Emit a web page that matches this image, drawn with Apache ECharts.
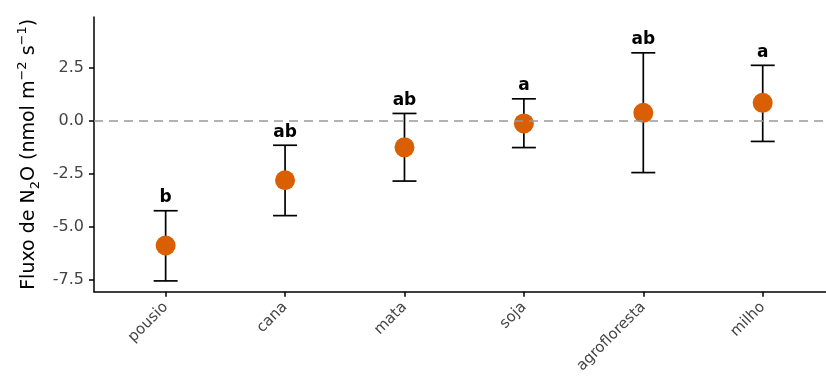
<!DOCTYPE html>
<html><head><meta charset="utf-8">
<script src="https://cdn.jsdelivr.net/npm/echarts@6/dist/echarts.min.js"></script>
<style>html,body{margin:0;padding:0;background:#fff}#c{width:826px;height:376px}</style>
</head><body><div id="c"></div>
<script>
const categories = ['pousio','cana','mata','soja','agrofloresta','milho'];
const means = [-5.90, -2.82, -1.27, -0.14, 0.36, 0.83];
const upper = [-4.26, -1.17, 0.33, 1.02, 3.19, 2.60];
const lower = [-7.57, -4.49, -2.86, -1.28, -2.46, -0.99];
const letters = ['b','ab','ab','a','ab','a'];
const yTicks = [-7.5, -5.0, -2.5, 0.0, 2.5];

const xIdx = categories.map((c,i)=>i+1);
const FONT = '"DejaVu Sans", sans-serif';

const chart = echarts.init(document.getElementById('c'), null, {renderer:'canvas'});
chart.setOption({
  animation:false,
  backgroundColor:'#fff',
  grid:{left:94, right:0, top:17, bottom:83, containLabel:false},
  xAxis:{
    type:'value', min:0.4, max:6.53,
    splitLine:{show:false},
    axisLine:{show:true, onZero:false, lineStyle:{color:'#000', width:1.5}},
    axisTick:{show:true, customValues:xIdx, length:5, lineStyle:{color:'#000', width:1.5}},
    axisLabel:{customValues:xIdx, rotate:45, color:'#444', fontSize:15, fontFamily:FONT, margin:13,
      formatter:v=>categories[Math.round(v)-1]||''}
  },
  yAxis:{
    type:'value', min:-8.08, max:4.88,
    splitLine:{show:false},
    axisLine:{show:true, onZero:false, lineStyle:{color:'#000', width:1.5}},
    axisTick:{show:true, customValues:yTicks, length:5, lineStyle:{color:'#000', width:1.5}},
    axisLabel:{customValues:yTicks, color:'#444', fontSize:16, fontFamily:FONT, margin:10,
      formatter:v=>v.toFixed(1)},
    name:'{n|Fluxo de N}{sub|2}{n|O (nmol m}{sup|−2}{n| s}{sup|−1}{n|)}',
    nameLocation:'middle', nameGap:48, nameRotate:90,
    nameTextStyle:{rich:{
      n:{fontSize:19, fontFamily:FONT, color:'#000', lineHeight:26, verticalAlign:'middle'},
      sub:{fontSize:13, fontFamily:FONT, color:'#000', padding:[12,0,0,0]},
      sup:{fontSize:13, fontFamily:FONT, color:'#000', padding:[0,0,13,0]}
    }}
  },
  series:[
    {
      type:'line', data:[],
      markLine:{silent:true, symbol:'none', label:{show:false},
        lineStyle:{color:'#999', type:[9,6], width:1.5},
        data:[{yAxis:0}]}
    },
    {
      type:'custom',
      data:xIdx.map((x,i)=>[x, lower[i], upper[i], letters[i]]),
      encode:{x:0, y:[1,2]},
      renderItem:function(params, api){
        const x = api.value(0);
        const lo = api.coord([x, api.value(1)]);
        const hi = api.coord([x, api.value(2)]);
        const hw = 12;
        const st = {stroke:'#000', lineWidth:1.7};
        const i = params.dataIndex;
        return {type:'group', children:[
          {type:'line', shape:{x1:lo[0], y1:lo[1], x2:hi[0], y2:hi[1]}, style:st},
          {type:'line', shape:{x1:lo[0]-hw, y1:lo[1], x2:lo[0]+hw, y2:lo[1]}, style:st},
          {type:'line', shape:{x1:hi[0]-hw, y1:hi[1], x2:hi[0]+hw, y2:hi[1]}, style:st},
          {type:'text', x:hi[0], y:hi[1]-13, style:{text:letters[i], fill:'#000',
            font:'bold 17px '+FONT, align:'center', verticalAlign:'middle'}}
        ]};
      },
      z:3
    },
    {
      type:'scatter', data:xIdx.map((x,i)=>[x, means[i]]),
      symbol:'circle', symbolSize:20,
      itemStyle:{color:'#D95F02', opacity:1},
      z:4
    }
  ]
});
</script></body></html>
